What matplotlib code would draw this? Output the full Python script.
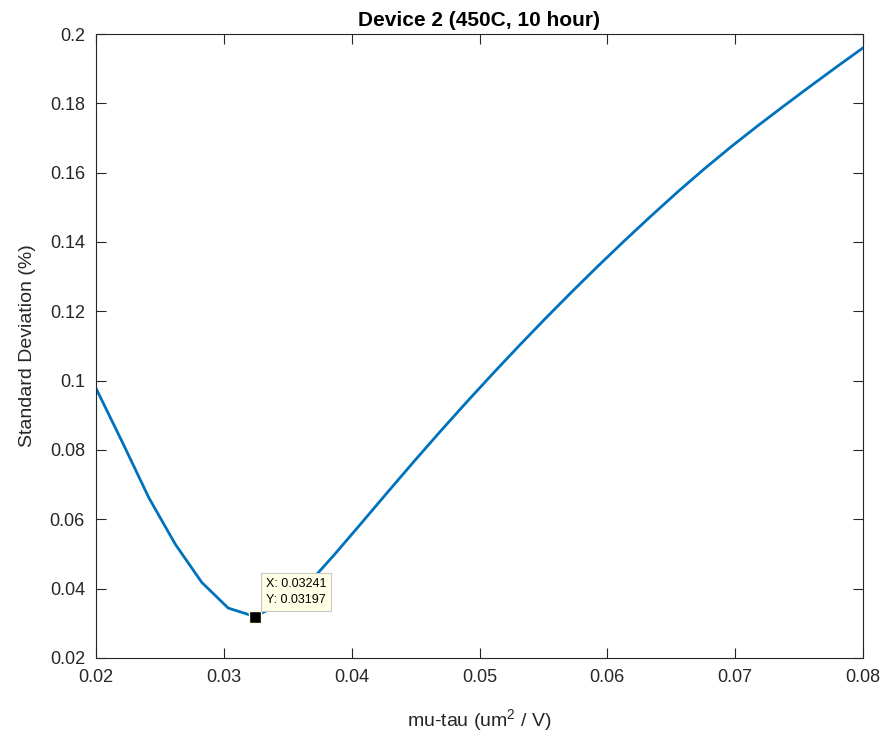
import numpy as np
import matplotlib
matplotlib.use("Agg")
import matplotlib.pyplot as plt

plt.rcParams['font.family'] = ['Liberation Sans', 'DejaVu Sans']
plt.rcParams['mathtext.default'] = 'regular'

# data
mu_tau = np.linspace(0.02, 0.08, 30)
std_dev = [0.0978, 0.0822, 0.0662, 0.0528, 0.0418, 0.0344, 0.03197, 0.0357,
           0.0412, 0.0497, 0.0586, 0.0676, 0.0765, 0.0852, 0.0937, 0.1020,
           0.1101, 0.1180, 0.1257, 0.1332, 0.1405, 0.1476, 0.1545, 0.1611,
           0.1674, 0.1734, 0.1792, 0.1849, 0.1905, 0.1960]
tip_x = 0.03241
tip_y = 0.03197
x_ticks = [0.02, 0.03, 0.04, 0.05, 0.06, 0.07, 0.08]
x_tick_labels = ['0.02', '0.03', '0.04', '0.05', '0.06', '0.07', '0.08']
y_ticks = [0.02, 0.04, 0.06, 0.08, 0.10, 0.12, 0.14, 0.16, 0.18, 0.20]
y_tick_labels = ['0.02', '0.04', '0.06', '0.08', '0.1', '0.12', '0.14', '0.16', '0.18', '0.2']

axc = '#262626'
fig = plt.figure(figsize=(8.86, 7.36), dpi=100)
ax = fig.add_axes([96/886, 1-658/736, (863-96)/886, (658-34)/736])
ax.plot(mu_tau, std_dev, color='#0072BD', lw=2)
ax.set_xlim(0.02, 0.08)
ax.set_ylim(0.02, 0.2)
ax.set_xticks(x_ticks)
ax.set_xticklabels(x_tick_labels)
ax.set_yticks(y_ticks)
ax.set_yticklabels(y_tick_labels)
ax.tick_params(direction='in', length=7, width=0.8, colors=axc, labelsize=13,
               top=True, right=True, pad=8)
for s in ax.spines.values():
    s.set_color(axc)
    s.set_linewidth(0.8)

ax.set_title('Device 2 (450C, 10 hour)', fontsize=15, fontweight='bold', color='black', pad=6)
ax.set_xlabel('mu-tau (um$^{2}$ / V)', fontsize=14, color=axc, labelpad=15)
ax.set_ylabel('Standard Deviation (%)', fontsize=14, color=axc, labelpad=10)

# data tip
ax.plot([tip_x], [tip_y], marker='s', ms=8, mfc='black', mec='#FFFFE0', mew=1, zorder=5)
ax.annotate('X: %.5f\nY: %.5f' % (tip_x, tip_y), xy=(tip_x, tip_y),
            xytext=(11, 11), textcoords='offset pixels', ha='left', va='bottom',
            fontsize=9, color='black', linespacing=1.4,
            bbox=dict(boxstyle='square,pad=0.4', fc='#FFFFE6', ec='#C8C8C8', lw=0.8),
            zorder=6)

fig.savefig('out.png', dpi=100)
